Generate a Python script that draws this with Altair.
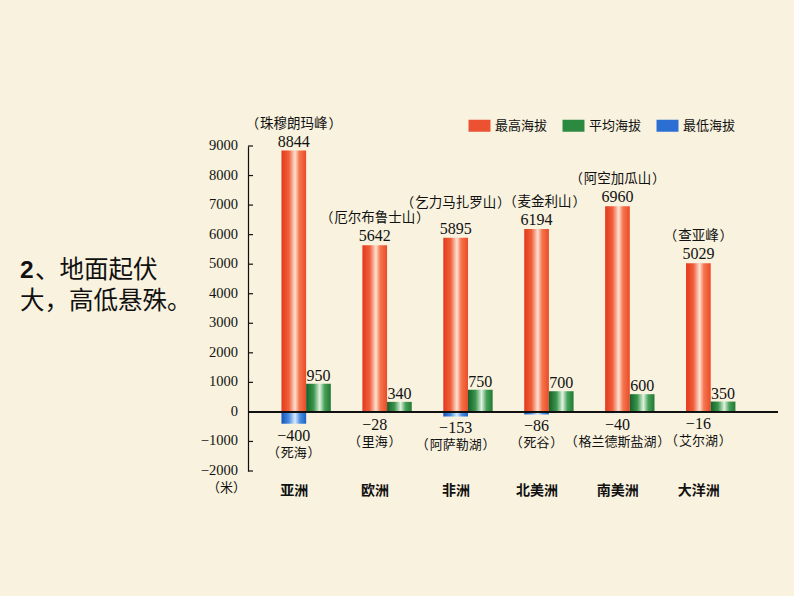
import altair as alt
import pandas as pd

continents = ["亚洲", "欧洲", "非洲", "北美洲", "南美洲", "大洋洲"]
highest = [8844, 5642, 5895, 6194, 6960, 5029]
peaks = ["珠穆朗玛峰", "厄尔布鲁士山", "乞力马扎罗山", "麦金利山", "阿空加瓜山", "查亚峰"]
average = [950, 340, 750, 700, 600, 350]
lowest = [-400, -28, -153, -86, -40, -16]
lows = ["死海", "里海", "阿萨勒湖", "死谷", "格兰德斯盐湖", "艾尔湖"]
yticks = [-2000, -1000, 0, 1000, 2000, 3000, 4000, 5000, 6000, 7000, 8000, 9000]
series = ["最高海拔", "平均海拔", "最低海拔"]
series_colors = ["#ec5232", "#2b8a3f", "#2c6fd2"]

df = pd.DataFrame({
    "continent": continents, "highest": highest, "peak": peaks,
    "average": average, "lowest": lowest, "low": lows,
})

W, H = 530, 325
CJK = "Noto Sans CJK SC"
SERIF = "Liberation Serif"

def grad(stops):
    return alt.LinearGradient(
        gradient="linear", x1=0, x2=1, y1=0, y2=0,
        stops=[alt.GradientStop(offset=o, color=c) for o, c in stops],
    )

red = grad([(0, "#e23a1b"), (0.3, "#f0603c"), (0.55, "#fde2d4"), (0.72, "#f4774f"), (1, "#eb4a28")])
green = grad([(0, "#15602a"), (0.3, "#3a954c"), (0.55, "#e0f2df"), (0.75, "#46a057"), (1, "#217934")])
blue = grad([(0, "#1452b8"), (0.3, "#4a8ddf"), (0.55, "#dcebff"), (0.75, "#4a8fe0"), (1, "#1b61c8")])

x_enc = alt.X(
    "continent:N", sort=continents,
    scale=alt.Scale(paddingInner=0.39, paddingOuter=0.47, align=0.44),
    axis=alt.Axis(title=None, domain=False, ticks=False, labelAngle=0,
                  labelFont=CJK, labelFontSize=14, labelFontWeight="bold",
                  labelColor="#111", labelPadding=12, labelOffset=-12),
)
off_scale = alt.Scale(domain=["hi", "avg"], paddingInner=0, paddingOuter=0)

def xoff():
    return alt.XOffset("s:N", scale=off_scale)

y_scale = alt.Scale(domain=[-2000, 9000], nice=False, zero=False)
y_axis = alt.Axis(values=yticks, grid=False, ticks=False, labels=False,
                  domainColor="#111", domainWidth=1.2,
                  title="（米）", titleAngle=0, titleFont=CJK, titleFontSize=13,
                  titleFontWeight="normal", titleColor="#111",
                  titleX=-22, titleY=341, titleAlign="center", titleBaseline="middle")

def Y(field):
    return alt.Y(field, scale=y_scale, axis=y_axis)

base = alt.Chart(df)
hi = base.transform_calculate(s="'hi'")
av = base.transform_calculate(s="'avg'")

red_bars = hi.mark_bar(color=red).encode(
    x=x_enc, xOffset=xoff(), y=Y("highest:Q"), y2=alt.datum(0))
green_bars = av.mark_bar(color=green).encode(
    x=x_enc, xOffset=xoff(), y=Y("average:Q"), y2=alt.datum(0))
blue_bars = hi.mark_bar(color=blue).encode(
    x=x_enc, xOffset=xoff(), y=Y("lowest:Q"), y2=alt.datum(0))

zero_line = alt.Chart(df).mark_rule(color="#111", strokeWidth=1.2).encode(
    y=alt.datum(0), x=alt.value(0), x2=alt.value(W))

tick_df = pd.DataFrame({"t": yticks})
tick_marks = alt.Chart(tick_df).mark_rule(color="#111", strokeWidth=1.2).encode(
    y=Y("t:Q"), x=alt.value(0), x2=alt.value(5))
tick_labels = alt.Chart(tick_df).mark_text(
    font=SERIF, fontSize=14.5, align="right", baseline="middle", color="#111").encode(
    y=Y("t:Q"), x=alt.value(-10), text=alt.Text("t:Q", format="d"))

hi_val = hi.mark_text(font=SERIF, fontSize=16, baseline="bottom", dy=-1, color="#111").encode(
    x=x_enc, xOffset=xoff(), y=Y("highest:Q"), text="highest:Q")
hi_lbl = hi.transform_calculate(lbl="'（\u200a' + datum.peak + '\u200a）'")

def name_layer(filt, dx, dy):
    return hi_lbl.transform_filter(filt).mark_text(
        font=CJK, fontSize=13.5, baseline="bottom", dx=dx, dy=dy, color="#111").encode(
        x=x_enc, xOffset=xoff(), y=Y("highest:Q"), text="lbl:N")

hi_name = name_layer("datum.continent != '非洲' && datum.continent != '北美洲'", 0, -20)
hi_name_af = name_layer("datum.continent == '非洲'", 0, -28)
hi_name_na = name_layer("datum.continent == '北美洲'", 8, -20)

av_val = av.mark_text(font=SERIF, fontSize=16, baseline="bottom", dy=0, color="#111").encode(
    x=x_enc, xOffset=xoff(), y=Y("average:Q"), text="average:Q")
lo_val = hi.transform_calculate(lbl="'−' + abs(datum.lowest)").mark_text(
    font=SERIF, fontSize=16, baseline="top", dy=4, color="#111").encode(
    x=x_enc, xOffset=xoff(), y=Y("lowest:Q"), text="lbl:N")
lo_name = hi.transform_calculate(lbl="'（\u200a' + datum.low + '\u200a）'").mark_text(
    font=CJK, fontSize=13, baseline="top", dy=23, color="#111").encode(
    x=x_enc, xOffset=xoff(), y=Y("lowest:Q"), text="lbl:N")

legend_layer = alt.Chart(pd.DataFrame({"series": series})).mark_square(
    filled=True, opacity=1).encode(
    color=alt.Color("series:N", scale=alt.Scale(domain=series, range=series_colors),
                    legend=alt.Legend(
                        orient="none", legendX=225, legendY=-27, direction="horizontal",
                        title=None, symbolType="M-1.83,-1L1.83,-1L1.83,1L-1.83,1Z",
                        symbolSize=144, symbolStrokeWidth=0, symbolOpacity=1,
                        labelFont=CJK, labelFontSize=13, labelColor="#111",
                        labelOffset=9, columnPadding=14)),
    x=alt.value(-1000), y=alt.value(-1000))

side1 = alt.Chart(pd.DataFrame({"t": ["2"]})).mark_text(
    font="Liberation Sans", fontSize=24.5, fontWeight="bold", align="left",
    baseline="middle", color="#111").encode(
    x=alt.value(-228), y=alt.value(125), text="t:N")
side2 = alt.Chart(pd.DataFrame({"t": ["、地面起伏"]})).mark_text(
    font=CJK, fontSize=24.5, align="left", baseline="middle", color="#111").encode(
    x=alt.value(-213), y=alt.value(125), text="t:N")
side3 = alt.Chart(pd.DataFrame({"t": ["大，高低悬殊。"]})).mark_text(
    font=CJK, fontSize=24.5, align="left", baseline="middle", color="#111").encode(
    x=alt.value(-228), y=alt.value(156), text="t:N")

chart = alt.layer(
    red_bars, green_bars, blue_bars, zero_line, tick_marks, tick_labels,
    hi_val, hi_name, hi_name_af, hi_name_na, av_val, lo_val, lo_name,
    legend_layer, side1, side2, side3,
).properties(
    width=W, height=H,
    autosize=alt.AutoSizeParams(type="none"),
    padding={"left": 248, "top": 146, "right": 16, "bottom": 125},
    background="#f8f2de",
).configure_view(stroke=None)

chart.save("out.html", embed_options={"renderer": "svg", "actions": False})
